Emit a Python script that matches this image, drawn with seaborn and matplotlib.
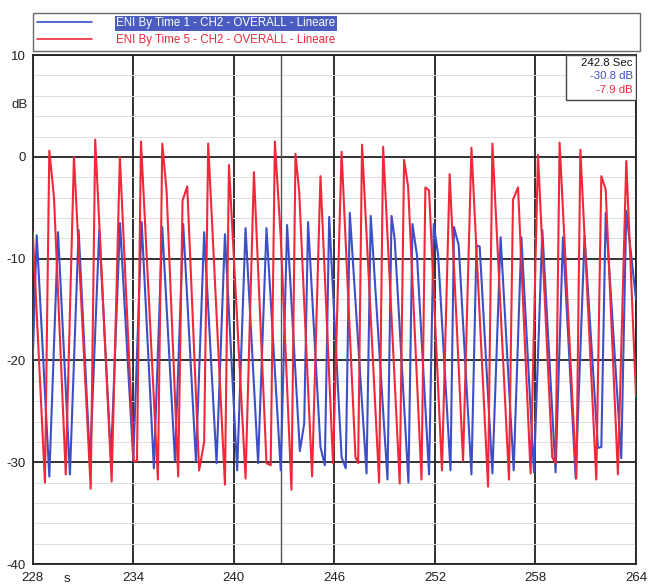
import matplotlib
matplotlib.use("Agg")
import matplotlib.pyplot as plt
import matplotlib.transforms as mtransforms
from matplotlib.patches import Rectangle
from matplotlib.lines import Line2D
import seaborn as sns
import pandas as pd
import numpy as np

# ---- data ----
blue_label = "ENI By Time 1 - CH2 - OVERALL - Lineare"
red_label = "ENI By Time 5 - CH2 - OVERALL - Lineare"

blue_t = [228.00, 228.24, 228.99, 229.51, 230.22, 230.74, 231.42, 231.97, 232.67, 233.21,
          234.00, 234.50, 235.23, 235.73, 236.49, 236.98, 237.74, 238.23, 238.97, 239.47,
          240.20, 240.70, 241.45, 241.95, 242.80, 243.18, 243.94, 244.20, 244.43, 245.17,
          245.43, 245.69, 246.43, 246.68, 246.92, 247.92, 248.17, 249.17, 249.41, 249.60,
          250.42, 250.66, 250.93, 251.65, 251.93, 252.19, 252.93, 253.14, 253.42, 254.18,
          254.48, 254.67, 255.43, 255.92, 256.70, 257.16, 257.91, 258.41, 259.20, 259.64,
          260.40, 260.93, 261.73, 261.93, 262.19, 263.12, 263.42, 264.00]
blue_db = [-20.0, -7.7, -31.4, -7.4, -31.2, -7.2, -30.1, -7.2, -29.7, -6.5,
           -29.8, -6.4, -30.6, -6.9, -29.9, -6.6, -29.9, -7.4, -30.1, -7.6,
           -30.8, -7.0, -30.1, -7.0, -30.8, -6.7, -28.9, -26.2, -6.4, -28.5,
           -30.3, -5.9, -29.5, -30.6, -5.5, -31.1, -5.8, -31.7, -5.8, -8.1,
           -32.0, -6.6, -9.7, -31.2, -6.6, -9.6, -30.8, -6.9, -8.7, -31.2,
           -8.7, -8.8, -31.1, -7.9, -30.8, -7.9, -31.0, -7.2, -31.0, -7.9,
           -31.6, -7.8, -28.6, -28.5, -5.5, -29.6, -5.3, -14.0]

red_t = [228.00, 228.73, 228.99, 229.27, 229.97, 230.46, 231.46, 231.73, 232.71, 233.20,
         234.03, 234.22, 234.46, 235.47, 235.73, 235.99, 236.68, 236.94, 237.22, 237.93,
         238.23, 238.47, 239.47, 239.71, 240.70, 241.20, 241.95, 242.20, 242.45, 242.80,
         243.44, 243.68, 243.90, 244.67, 245.17, 245.92, 246.43, 247.26, 247.42, 247.65,
         248.67, 248.91, 249.90, 250.16, 250.40, 251.20, 251.43, 251.65, 252.42, 252.88,
         253.68, 254.18, 255.17, 255.43, 256.42, 256.66, 256.96, 257.71, 258.15, 259.00,
         259.20, 259.44, 260.44, 260.68, 261.63, 261.93, 262.19, 262.92, 263.42, 264.00]
red_db = [-7.3, -32.0, 0.6, -4.0, -31.2, 0.0, -32.6, 1.7, -31.9, 0.0,
          -29.9, -29.9, 1.5, -31.7, 1.3, -3.4, -31.4, -4.3, -2.9, -30.8,
          -28.0, 1.3, -32.2, -0.8, -31.6, -1.5, -30.1, -30.3, 1.5, -7.9,
          -32.7, 0.3, -3.4, -31.4, -1.9, -30.1, 0.5, -29.5, -30.1, 1.2,
          -32.0, 1.0, -32.1, -0.3, -2.9, -31.7, -3.0, -3.3, -30.8, -1.7,
          -29.9, 0.9, -32.4, 1.3, -31.7, -4.2, -3.0, -31.1, 0.2, -29.5,
          -30.1, 1.4, -31.6, 0.7, -31.7, -1.9, -3.2, -31.2, -0.4, -23.5]

x_ticks = [228, 234, 240, 246, 252, 258, 264]
y_ticks = [-40, -30, -20, -10, 0, 10]
cursor_t = 242.8
cursor_texts = ["242.8 Sec", "-30.8 dB", "-7.9 dB"]

BLUE = "#3d4fc6"
RED = "#f0283a"

sns.set_style("white")
plt.rcParams['font.family'] = ['Liberation Sans', 'DejaVu Sans']

df = pd.concat([
    pd.DataFrame({"t": blue_t, "db": blue_db, "series": blue_label}),
    pd.DataFrame({"t": red_t, "db": red_db, "series": red_label}),
])

fig = plt.figure(figsize=(6.48, 5.86), dpi=100)
ax = fig.add_axes([0.0505, 0.0375, 0.931, 0.8685])

sns.lineplot(data=df, x="t", y="db", hue="series", palette=[BLUE, RED],
             sort=False, estimator=None, lw=1.5, ax=ax, legend=False, zorder=3)

ax.set_xlim(228, 264)
ax.set_ylim(-40, 10)
ax.set_xticks(x_ticks)
ax.set_xticklabels([str(v) for v in x_ticks])
ax.set_yticks(y_ticks)
ax.set_yticklabels([str(v) for v in y_ticks])
ax.set_yticks(np.arange(-38, 10, 2), minor=True)
ax.grid(which="major", color="#222222", lw=1.3, zorder=1)
ax.grid(which="minor", axis="y", color="#dedede", lw=0.7, zorder=0)
ax.tick_params(axis="both", which="major", length=3, width=1, color="#333333",
               labelsize=9.5, pad=2, labelcolor="#222222")
ax.tick_params(axis="x", which="major", pad=3)
ax.tick_params(axis="both", which="minor", length=0)
ax.set_xlabel("")
ax.set_ylabel("")
for s in ax.spines.values():
    s.set_color("#222222")
    s.set_linewidth(1.3)

ax.axvline(cursor_t, color="#555555", lw=1.0, zorder=2)

# unit labels
trans_y = mtransforms.blended_transform_factory(ax.transAxes, ax.transData)
ax.text(-0.021, 5.1, "dB", transform=trans_y, ha="center", va="center",
        fontsize=9.5, color="#222222")
trans_x = mtransforms.blended_transform_factory(ax.transData, ax.transAxes)
ax.text(230.05, -0.03, "s", transform=trans_x, ha="center", va="center",
        fontsize=9.5, color="#222222")

# cursor readout box
ax.add_patch(Rectangle((0.884, 0.9116), 0.116, 0.0884, transform=ax.transAxes,
                       facecolor="white", edgecolor="#444444", lw=1.0, zorder=5))
for txt, col, yy in zip(cursor_texts, ["#111111", BLUE, RED], [0.984, 0.959, 0.932]):
    ax.text(0.995, yy, txt, transform=ax.transAxes, ha="right", va="center",
            fontsize=8.2, color=col, zorder=6)

# legend box above the plot
handles = [Line2D([0], [0], color=BLUE, lw=1.2), Line2D([0], [0], color=RED, lw=1.2)]
leg = ax.legend(handles, [blue_label, red_label], loc="lower left",
                bbox_to_anchor=(0.0, 1.009, 1.006, 0.075), mode="expand",
                fancybox=False, frameon=True, fontsize=8.3, handlelength=4.8,
                handletextpad=2.1, labelspacing=0.45, borderpad=0.35,
                borderaxespad=0.0)
leg.get_frame().set_edgecolor("#444444")
leg.get_frame().set_linewidth(1.0)
t1, t2 = leg.get_texts()
t1.set_color("white")
t1.set_bbox(dict(facecolor="#4a5cc0", edgecolor="none", pad=1.0))
t2.set_color(RED)

fig.savefig("out.png", dpi=100)
